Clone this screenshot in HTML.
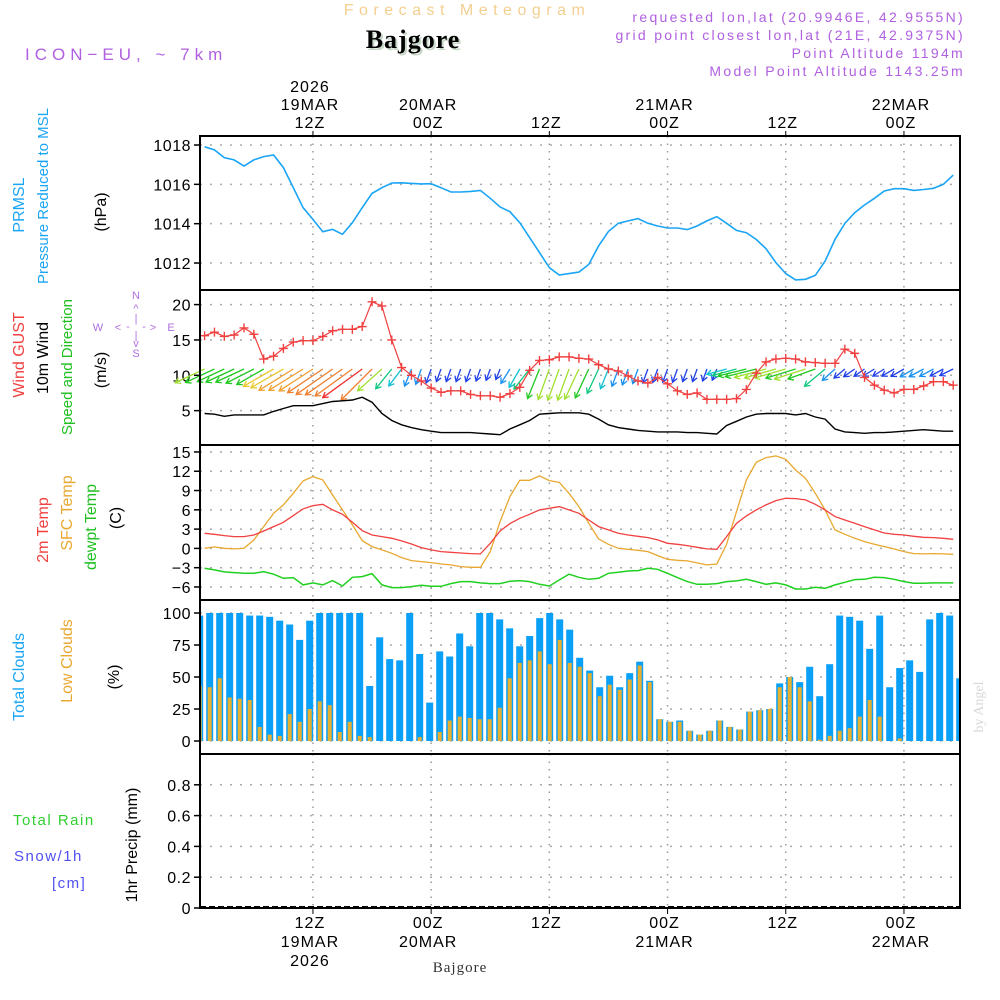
<!DOCTYPE html>
<html><head><meta charset="utf-8"><style>
html,body{margin:0;padding:0;background:#fff;width:1000px;height:1000px;overflow:hidden}
svg text{font-family:"Liberation Sans",sans-serif}
</style></head><body>
<svg id="chart" width="1000" height="1000" viewBox="0 0 1000 1000" xmlns="http://www.w3.org/2000/svg">
<g>
<text x="467" y="15" text-anchor="middle" font-size="16" fill="#f3cf90" letter-spacing="5.5">Forecast Meteogram</text>
<text x="415" y="50" text-anchor="middle" font-size="26" font-weight="bold" fill="#c8d8c8" style="font-family:'Liberation Serif',serif" letter-spacing="1">Bajgore</text>
<text x="413" y="48" text-anchor="middle" font-size="26" font-weight="bold" fill="#000" style="font-family:'Liberation Serif',serif" letter-spacing="1">Bajgore</text>
<text x="25" y="60" font-size="17" fill="#b060e0" letter-spacing="5">ICON−EU, ~ 7km</text>
<g font-size="14" fill="#b060e0" text-anchor="end" letter-spacing="2.3">
<text x="965" y="22">requested lon,lat (20.9946E, 42.9555N)</text>
<text x="965" y="40">grid point closest lon,lat (21E, 42.9375N)</text>
<text x="965" y="58">Point Altitude 1194m</text>
<text x="965" y="76">Model Point Altitude 1143.25m</text>
</g>
</g>
<g id="axislabels" font-size="16"></g>
<g id="grid"></g>
<g id="marks"></g>
<g id="frames"></g>
<text transform="translate(983,707) rotate(-90)" text-anchor="middle" font-size="14" fill="#d8d8d8" style="font-family:'Liberation Serif',serif">by Angel</text>
<text x="460" y="972" text-anchor="middle" font-size="15" fill="#333" letter-spacing="1" style="font-family:'Liberation Serif',serif">Bajgore</text>
</svg>
<script>
const pressure=[1017.91,1017.75,1017.36,1017.24,1016.93,1017.24,1017.41,1017.49,1016.85,1015.83,1014.81,1014.22,1013.59,1013.71,1013.46,1014.05,1014.81,1015.54,1015.83,1016.07,1016.08,1016.05,1016.02,1016.03,1015.83,1015.61,1015.61,1015.64,1015.69,1015.29,1014.85,1014.61,1014.05,1013.29,1012.53,1011.76,1011.39,1011.46,1011.54,1011.93,1012.87,1013.6,1014.02,1014.14,1014.26,1014.02,1013.88,1013.78,1013.78,1013.7,1013.88,1014.14,1014.36,1014.02,1013.66,1013.54,1013.2,1012.73,1012.02,1011.46,1011.14,1011.17,1011.37,1012.1,1013.2,1014.02,1014.56,1014.95,1015.29,1015.66,1015.78,1015.78,1015.69,1015.74,1015.8,1016.0,1016.47];
const gust=[15.6,16.1,15.5,15.7,16.7,15.8,12.3,12.7,13.8,14.7,14.9,14.9,15.5,16.3,16.5,16.5,16.9,20.4,19.8,15.0,11.1,10.0,9.2,8.2,7.6,7.8,7.8,7.3,7.1,7.1,6.9,7.4,8.3,10.7,12.1,12.2,12.6,12.6,12.4,12.3,11.5,10.9,10.6,9.9,9.2,8.9,9.7,8.8,7.8,7.3,7.5,6.6,6.6,6.6,6.7,8.0,10.3,11.9,12.3,12.4,12.3,11.9,11.8,11.7,11.7,13.7,13.1,9.7,8.6,7.9,7.5,8.0,8.0,8.5,9.1,9.1,8.6];
const wind10=[4.6,4.5,4.2,4.4,4.4,4.4,4.4,4.9,5.3,5.7,5.7,5.7,6.0,6.3,6.4,6.5,6.9,6.2,4.6,3.6,3.0,2.6,2.3,2.1,1.9,1.9,1.9,1.9,1.8,1.7,1.6,2.4,3.0,3.6,4.5,4.6,4.7,4.7,4.7,4.5,3.8,3.0,2.6,2.4,2.2,2.1,2.0,2.0,2.0,1.9,1.9,1.8,1.7,2.9,3.5,4.1,4.5,4.6,4.6,4.6,4.4,4.6,4.1,3.8,2.4,2.0,1.9,1.8,1.9,1.9,2.0,2.1,2.2,2.3,2.2,2.1,2.1];
const windDir=[65,65,65,65,65,63,60,60,60,58,58,57,56,55,55,54,54,45,48,39,37,22,20,20,20,20,20,20,20,20,22,32,30,38,22,20,20,20,25,25,25,22,20,20,20,20,20,20,20,20,20,20,22,75,75,76,76,75,74,74,73,72,70,50,48,50,55,55,58,58,60,60,60,62,62,62,64];
const temp2m=[2.35,2.2,1.99,1.83,1.83,2.09,2.71,3.39,4.06,5.1,6.14,6.65,6.86,5.98,5.31,4.06,2.77,2.09,1.83,1.57,1.16,0.69,0.12,-0.24,-0.5,-0.6,-0.71,-0.81,-0.86,0.8,2.71,3.86,4.68,5.31,5.98,6.24,6.5,5.98,5.46,4.42,3.39,2.87,2.35,2.09,1.88,1.68,1.32,0.8,0.64,0.43,0.17,-0.08,-0.14,1.83,3.91,5.05,5.98,6.76,7.43,7.79,7.74,7.54,6.86,5.98,4.94,4.42,3.91,3.39,2.87,2.4,2.2,2.09,1.88,1.73,1.68,1.57,1.42];
const tempSfc=[0.02,0.23,0.02,-0.08,0.02,1.31,3.39,5.46,6.76,8.57,10.49,11.16,10.65,8.31,5.98,3.65,1.21,0.28,-0.24,-0.76,-1.43,-1.9,-2.05,-2.21,-2.42,-2.57,-2.83,-2.94,-2.94,-0.5,4.17,8.05,10.59,10.59,11.27,10.54,10.28,8.57,6.5,3.91,1.47,0.64,0.02,-0.14,-0.29,-0.5,-1.12,-1.69,-1.85,-1.95,-2.26,-2.57,-2.42,0.64,5.72,10.65,13.39,14.12,14.38,13.86,12.2,10.9,8.57,5.98,2.87,2.2,1.57,1.06,0.64,0.28,-0.08,-0.5,-0.81,-0.86,-0.81,-0.86,-0.91];
const dewpt=[-3.09,-3.35,-3.66,-3.77,-3.87,-3.87,-3.61,-4.02,-4.65,-4.54,-5.68,-5.37,-5.68,-5.01,-5.84,-4.49,-4.39,-3.92,-5.68,-6.1,-6.1,-5.94,-5.74,-5.89,-5.89,-5.48,-5.17,-5.17,-5.37,-5.48,-5.48,-5.11,-5.01,-5.17,-5.58,-5.84,-4.91,-4.02,-4.49,-4.8,-4.65,-3.87,-3.71,-3.51,-3.45,-3.09,-3.25,-3.87,-4.54,-5.17,-5.58,-5.58,-5.48,-5.17,-5.06,-4.8,-5.17,-5.58,-5.37,-5.68,-6.31,-6.31,-6.05,-6.2,-5.68,-5.27,-4.85,-4.8,-4.49,-4.54,-4.8,-5.17,-5.42,-5.42,-5.37,-5.37,-5.37];
const totalClouds=[98,100,100,100,100,98,98,97,94,91,79,94,100,100,100,100,100,43,81,64,63,100,68,30,70,66,84,74,100,100,95,88,74,82,96,100,95,87,65,55,42,51,42,53,62,47,17,15,16,8,5,8,16,11,9,23,24,25,45,50,46,58,35,60,98,97,94,72,98,42,57,63,54,95,100,98,49];
const lowClouds=[43,42,49,34,33,32,11,5,4,21,15,25,31,28,7,15,4,3,0,0,0,0,3,0,7,16,19,18,17,17,26,49,61,63,70,60,79,61,58,53,35,44,40,48,59,46,17,15,15,8,5,8,16,11,9,23,24,25,42,50,42,31,1,4,8,10,19,32,19,0,2,0,0,0,0,0,0];
const presTicks=[1012,1014,1016,1018];
const windTicks=[5,10,15,20];
const tempTicks=[-6,-3,0,3,6,9,12,15];
const cloudTicks=[0,25,50,75,100];
const precipTicks=[0,0.2,0.4,0.6,0.8];
const precipTickLabels=['0','0.2','0.4','0.6','0.8'];
const timeTickHours=[11,23,35,47,59,71];
const topLabels=[['2026','19MAR','12Z'],['','20MAR','00Z'],['','','12Z'],['','21MAR','00Z'],['','','12Z'],['','22MAR','00Z']];
const botLabels=[['12Z','19MAR','2026'],['00Z','20MAR',''],['12Z','',''],['00Z','21MAR',''],['12Z','',''],['00Z','22MAR','']];

const NS='http://www.w3.org/2000/svg';
const X0=200,X1=960;
function mk(tag,attrs,parent){const e=document.createElementNS(NS,tag);for(const k in attrs)e.setAttribute(k,attrs[k]);parent.appendChild(e);return e;}
const xL=h=>204.6+9.85*h;
const xB=h=>199.7+10*h;
const yP=v=>145+(1018-v)*19.67;
const yW=v=>446-v*7.07;
const yT=v=>548.4-v*6.43;
const yC=v=>741-v*1.28;
const yR=v=>908-v*154;
const grid=document.getElementById('grid'),marks=document.getElementById('marks'),frames=document.getElementById('frames'),lab=document.getElementById('axislabels');
const panels=[[136,290],[290,445],[445,600],[600,754],[754,908]];
panels.forEach(p=>{timeTickHours.forEach(h=>{
 const l=mk('line',{x1:xL(h),x2:xL(h),y1:p[0],y2:p[1],stroke:'#999','stroke-dasharray':'1.5,6','stroke-width':1.5},grid);
 
 
});});
function hgrid(ticks,yf,labels,name){ticks.forEach((t,i)=>{
 const l=mk('line',{x1:X0,x2:X1,y1:yf(t),y2:yf(t),stroke:'#aaa','stroke-dasharray':'2,8','stroke-width':1.5},grid);
 
 
 mk('line',{x1:X0-6,x2:X0,y1:yf(t),y2:yf(t),stroke:'#000','stroke-width':1.5},grid);
 const tx=mk('text',{x:X0-9,y:yf(t)+6,'text-anchor':'end','font-size':16,fill:'#000','letter-spacing':'0.5'},lab);
 tx.textContent=labels?labels[i]:String(t).replace('-','−');
 
 
});}
hgrid(presTicks,yP,null,'pressure');
hgrid(windTicks,yW,null,'wind');
hgrid(tempTicks,yT,null,'temp');
hgrid(cloudTicks,yC,null,'cloud');
hgrid(precipTicks,yR,precipTickLabels,'precip');
timeTickHours.forEach((h,i)=>{
 topLabels[i].forEach((s,j)=>{if(!s)return;const t=mk('text',{x:xL(h)-3,y:92+18*j,'text-anchor':'middle','font-size':16,fill:'#000','letter-spacing':'1'},lab);t.textContent=s;
 
 });
 botLabels[i].forEach((s,j)=>{if(!s)return;const t=mk('text',{x:xL(h)-3,y:928+19*j,'text-anchor':'middle','font-size':16,fill:'#000','letter-spacing':'1'},lab);t.textContent=s;
 
 });
 mk('line',{x1:xL(h),x2:xL(h),y1:131,y2:136,stroke:'#000'},grid);
 mk('line',{x1:xL(h),x2:xL(h),y1:908,y2:914,stroke:'#000'},grid);
});
function poly(arr,xf,yf,color,name,w){
 const pts=arr.map((v,i)=>xf(i).toFixed(1)+','+yf(v).toFixed(1)).join(' ');
 const p=mk('polyline',{points:pts,fill:'none',stroke:color,'stroke-width':w||1.4},marks);
 
 
 return p;
}
const cg=mk('g',{'clip-path':'url(#cclip)'},marks);
const defs=mk('defs',{},document.getElementById('chart'));
const cp=mk('clipPath',{id:'cclip'},defs);mk('rect',{x:X0,y:600,width:X1-X0,height:154},cp);
totalClouds.forEach((v,i)=>{
 const r=mk('rect',{x:xB(i)-3.5,y:yC(v),width:7,height:yC(0)-yC(v),fill:'#0aa0f8'},cg);
 
 
});
lowClouds.forEach((v,i)=>{
 const r=mk('rect',{x:xB(i)-2,y:yC(v),width:4,height:yC(0)-yC(v),fill:'#e8b030'},cg);
 
 
});
poly(pressure,xL,yP,'#1aa5f5','pressure-line',1.6);
function spdColor(s){if(s<2.2)return '#2040e8';if(s<2.7)return '#1a90f0';if(s<3.3)return '#10c0d0';if(s<4.0)return '#10c880';if(s<4.55)return '#20c820';if(s<4.8)return '#a0e030';if(s<5.5)return '#e8c830';if(s<6.0)return '#f0a030';if(s<6.6)return '#f08030';return '#f03030';}
windDir.forEach((d,i)=>{
 const s=wind10[i],L=s*7.07,t=(d+180)*Math.PI/180;
 const x0=xL(i),y0=369,x1=x0+Math.sin(t)*L,y1=y0-Math.cos(t)*L;
 const ang=Math.atan2(y1-y0,x1-x0),hl=6;
 const c=spdColor(s);
 const g=mk('g',{stroke:c,'stroke-width':1.3,fill:'none'},marks);
 
 
 mk('line',{x1:x0,y1:y0,x2:x1,y2:y1},g);
 mk('polyline',{points:`${x1+hl*Math.cos(ang+2.6)},${y1+hl*Math.sin(ang+2.6)} ${x1},${y1} ${x1+hl*Math.cos(ang-2.6)},${y1+hl*Math.sin(ang-2.6)}`},g);
});
poly(wind10,xL,yW,'#000','wind-speed-line',1.4);
poly(gust,xL,yW,'#f04040','wind-gust-line',1.2);
gust.forEach((v,i)=>{
 const x=xL(i),y=yW(v);
 const m=mk('path',{d:`M${x-4.5},${y}H${x+4.5}M${x},${y-4.5}V${y+4.5}`,stroke:'#f04040','stroke-width':1.4},marks);
 
 
});
poly(tempSfc,xL,yT,'#e8a830','sfc-temp-line',1.3);
poly(temp2m,xL,yT,'#f04040','temp-2m-line',1.3);
poly(dewpt,xL,yT,'#20d020','dewpoint-line',1.5);
const z=mk('line',{x1:X0,x2:X1,y1:907,y2:907,stroke:'#000','stroke-width':2,'stroke-dasharray':'6,3'},marks);


panels.forEach((p,i)=>{
 const r=mk('rect',{x:X0,y:p[0],width:X1-X0,height:p[1]-p[0],fill:'none',stroke:'#000','stroke-width':2},frames);
 
 
});
function rlab(txt,x,y,color,name,size){
 const t=mk('text',{transform:`translate(${x},${y}) rotate(-90)`,'text-anchor':'middle','font-size':size||16,fill:color},lab);
 t.textContent=txt;
 
 
}
rlab('PRMSL',24,205,'#1aa5f5','pressure-title-1');
rlab('Pressure Reduced to MSL',48,196,'#1aa5f5','pressure-title-2',15);
rlab('(hPa)',106,212,'#000','pressure-unit');
rlab('Wind GUST',24,355,'#f04040','gust-title');
rlab('10m Wind',48,358,'#000','wind-title');
rlab('Speed and Direction',72,367,'#20c020','wind-dir-title',15);
rlab('(m/s)',106,370,'#000','wind-unit');
rlab('2m Temp',48,530,'#f04040','temp2m-title');
rlab('SFC Temp',72,513,'#e8a830','sfc-temp-title');
rlab('dewpt Temp',96,527,'#20c020','dewpt-title');
rlab('(C)',121,518,'#000','temp-unit');
rlab('Total Clouds',24,677,'#1aa5f5','total-clouds-title');
rlab('Low Clouds',72,661,'#e8a830','low-clouds-title');
rlab('(%)',119,677,'#000','cloud-unit');
rlab('1hr Precip (mm)',137,845,'#000','precip-title');
function hl(txt,x,y,color,name){const t=mk('text',{x:x,y:y,'font-size':15,fill:color,'letter-spacing':'1.5'},lab);t.textContent=txt;
 
 }
hl('Total  Rain',13,825,'#30d030','total-rain-label');
hl('Snow/1h',14,861,'#5050f0','snow-label');
hl('[cm]',52,888,'#5050f0','snow-unit-label');
const cg2=mk('g',{fill:'#b070e0','font-size':11,'text-anchor':'middle'},lab);


[['N',136,299],['W',98,331],['E',171,331],['S',136,357],['^',136,312],['<',118,331],['>',153,331],['v',136,347],['|',136,322],['|',136,339],['-',128,330],['-',144,330]].forEach(a=>{const t=mk('text',{x:a[1],y:a[2]},cg2);t.textContent=a[0];});
</script>
</body></html>
